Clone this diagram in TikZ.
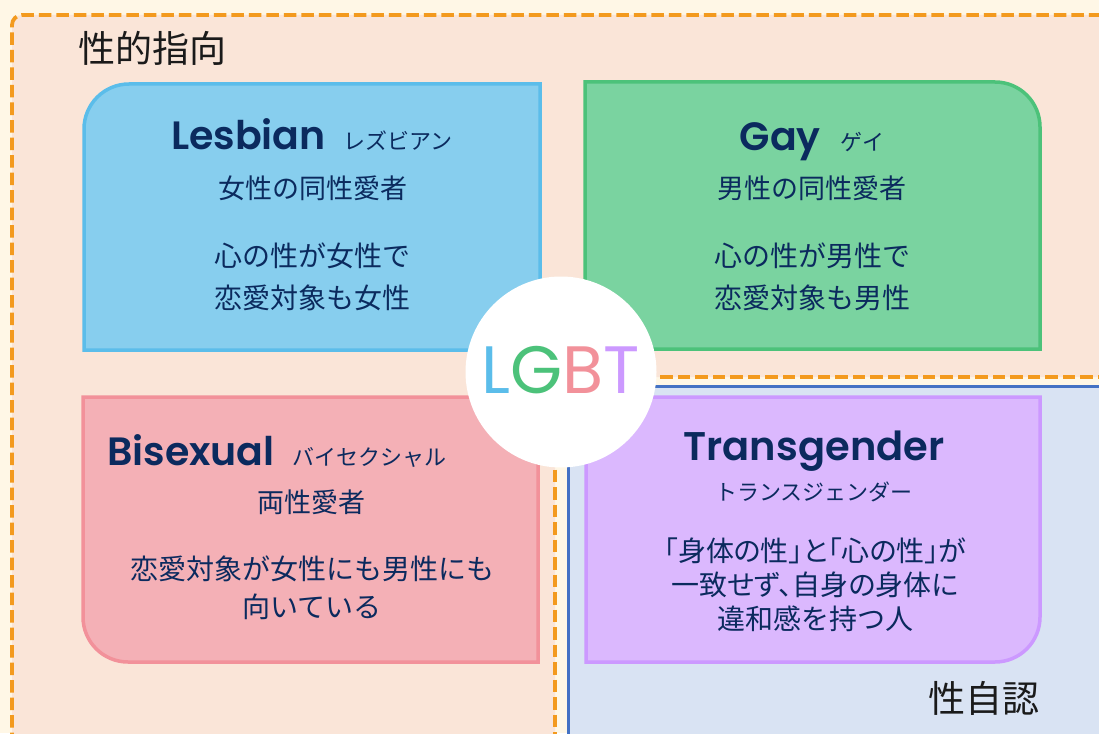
\documentclass[tikz,border=0pt]{standalone}
\usepackage{fontspec}
\setmainfont{Noto Sans CJK JP}
\newfontfamily\jp{Noto Sans CJK JP}
\newfontfamily\jpp{Noto Sans CJK JP}[RawFeature=+palt]
\newfontfamily\headf{Poppins SemiBold}
\newfontfamily\lgbtf{Poppins}
\definecolor{cream}{HTML}{FFF7E6}
\definecolor{peach}{HTML}{FAE5D8}
\definecolor{paleblue}{HTML}{D9E3F3}
\definecolor{dashor}{HTML}{F39A1E}
\definecolor{lineblue}{HTML}{4472C4}
\definecolor{lfill}{HTML}{87CEEE}
\definecolor{lline}{HTML}{5BBDEA}
\definecolor{gfill}{HTML}{7AD3A0}
\definecolor{gline}{HTML}{4CC27A}
\definecolor{bfill}{HTML}{F4B0B6}
\definecolor{bline}{HTML}{F2919A}
\definecolor{tfill}{HTML}{DBB8FE}
\definecolor{tline}{HTML}{CC99FF}
\definecolor{navy}{HTML}{0B2A5E}
\definecolor{ink}{HTML}{1A1A1A}
\tikzset{
  catbox/.style={line width=3.5pt},
  orangedash/.style={draw=dashor, line width=3.8pt, dash pattern=on 12.5pt off 5pt},
  title/.style={anchor=base, inner sep=0pt, text=navy},
  body/.style={anchor=base, inner sep=0pt, text=navy, font=\jp\fontsize{28}{30}\selectfont},
  sub/.style={anchor=base, inner sep=0pt, text=navy, font=\jp\fontsize{22}{24}\selectfont},
  region/.style={anchor=base, inner sep=0pt, text=ink, font=\jp\fontsize{37}{40}\selectfont},
}
\newcommand{\hd}[3]{{\headf\fontsize{39.5}{42}\selectfont #1}\hspace{#3}{\jp\fontsize{22}{24}\selectfont #2}}
\begin{document}
\begin{tikzpicture}[x=1pt,y=-1pt]
\useasboundingbox (0,0) rectangle (1099,733);
\clip (0,0) rectangle (1099,733);
\fill[cream] (0,0) rectangle (1099,733);
% orange region (sexual orientation)
\fill[peach] (12,745) -- (12,25) .. controls (12,19.5) and (16.5,15) .. (22,15) -- (1110,15) -- (1110,377) -- (555,377) -- (555,745) -- cycle;
\draw[orangedash] (12,745) -- (12,25) .. controls (12,19.5) and (16.5,15) .. (22,15) -- (1110,15);
\draw[orangedash] (1110,377) -- (555,377) -- (555,745);
% blue region (gender identity)
\fill[paleblue] (568,745) -- (568,386) -- (1110,386) -- (1110,745) -- cycle;
\draw[lineblue, line width=3pt] (568,745) -- (568,386) -- (1110,386);
% boxes
\draw[catbox, fill=lfill, draw=lline] (84,350) -- (84,129) .. controls (84,104.15) and (104.15,84) .. (129,84) -- (540,84) -- (540,350) -- cycle;
\draw[catbox, fill=gfill, draw=gline] (585,349) -- (585,82) -- (995,82) .. controls (1019.85,82) and (1040,102.15) .. (1040,127) -- (1040,349) -- cycle;
\draw[catbox, fill=bfill, draw=bline] (83,397) -- (538,397) -- (538,662) -- (128,662) .. controls (103.15,662) and (83,641.85) .. (83,617) -- cycle;
\draw[catbox, fill=tfill, draw=tline] (586,397) -- (1040,397) -- (1040,617) .. controls (1040,641.85) and (1019.85,662) .. (995,662) -- (586,662) -- cycle;
% centre circle
\node[circle, fill=white, minimum size=191pt, inner sep=0pt] (centre) at (561,372) {};
\node[anchor=base, inner sep=0pt, font=\lgbtf\fontsize{67}{70}\selectfont] (lgbt) at (561,393)
  {\textcolor{lline}{L}\textcolor{gline}{G}\textcolor{bline}{B}\textcolor{tline}{T}};
% region labels
\node[region, anchor=base west] (orient) at (78,63) {性的指向};
\node[region, anchor=base east] (ident) at (1040,712) {性自認};
% Lesbian
\node[title] (lt) at (312,149) {\hd{Lesbian}{レズビアン}{18pt}};
\node[body, font=\jp\fontsize{27}{30}\selectfont] (l1) at (313,198) {女性の同性愛者};
\node[body] (l2) at (312,266) {心の性が女性で};
\node[body] (l3) at (312,308) {恋愛対象も女性};
% Gay
\node[title] (gt) at (812,150) {\hd{Gay}{ゲイ}{20pt}};
\node[body, font=\jp\fontsize{27}{30}\selectfont] (g1) at (812,198) {男性の同性愛者};
\node[body] (g2) at (812,266) {心の性が男性で};
\node[body] (g3) at (812,308) {恋愛対象も男性};
% Bisexual
\node[title] (bt) at (277,465) {\hd{Bisexual}{バイセクシャル}{18pt}};
\node[body, font=\jp\fontsize{27}{30}\selectfont] (b1) at (311,512) {両性愛者};
\node[body] (b2) at (312,579) {恋愛対象が女性にも男性にも};
\node[body] (b3) at (312,617) {向いている};
% Transgender
\node[title, font=\headf\fontsize{40}{42}\selectfont] (tt) at (814,460) {Transgender};
\node[sub] (t0) at (814,500) {トランスジェンダー};
\node[body, font=\jpp\fontsize{28}{30}\selectfont] (t1) at (815,561) {「身体の性」と「心の性」が};
\node[body, font=\jpp\fontsize{28}{30}\selectfont] (t2) at (815,595) {一致せず、自身の身体に};
\node[body] (t3) at (815,629) {違和感を持つ人};
\end{tikzpicture}
\end{document}
